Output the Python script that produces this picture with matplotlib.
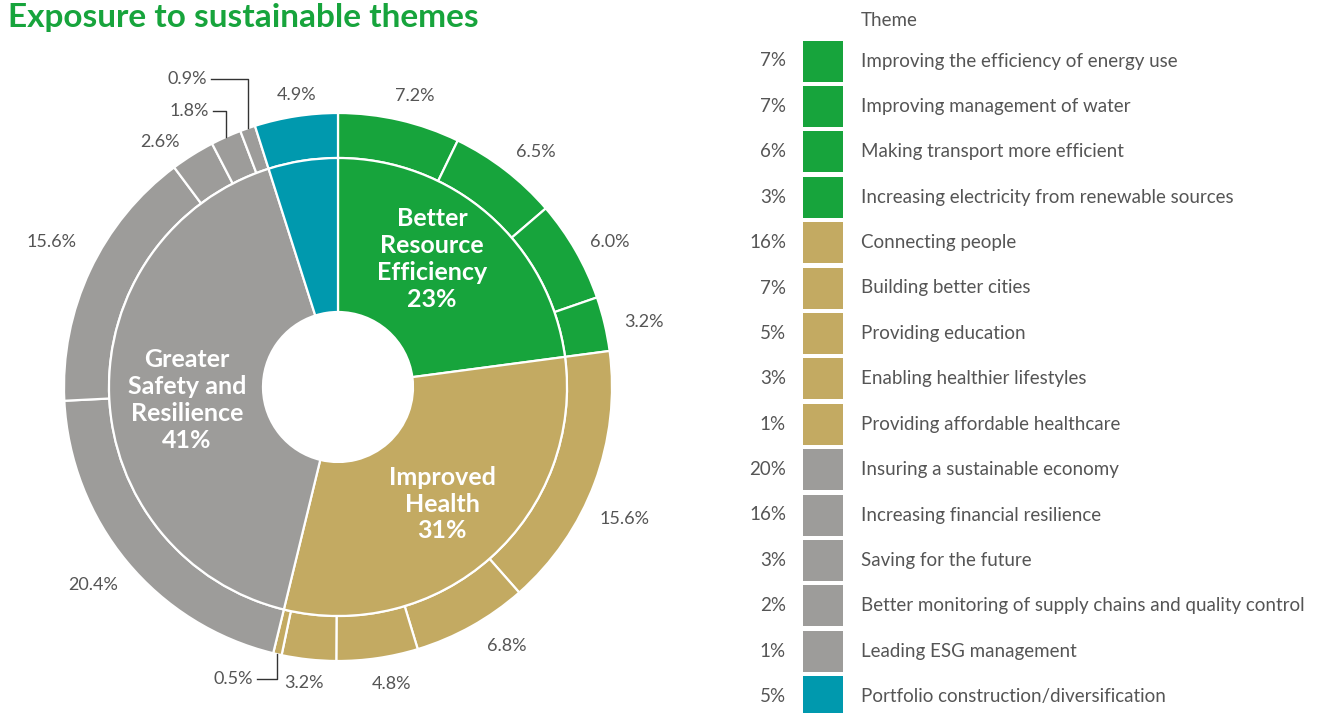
import matplotlib
matplotlib.use("Agg")
import matplotlib.pyplot as plt
import numpy as np
from matplotlib.patches import Rectangle

plt.rcParams['font.family'] = ['Lato', 'DejaVu Sans']

# ---------------- data ----------------
groups = ["Better\nResource\nEfficiency", "Improved\nHealth", "Greater\nSafety and\nResilience", ""]
group_values = [22.9, 30.9, 41.3, 4.9]
group_labels = ["23%", "31%", "41%", ""]

outer_values = [7.2, 6.5, 6.0, 3.2,
                15.6, 6.8, 4.8, 3.2, 0.5,
                20.4, 15.6, 2.6, 1.8, 0.9,
                4.9]
outer_group = [0, 0, 0, 0, 1, 1, 1, 1, 1, 2, 2, 2, 2, 2, 3]

legend_pct = ["7%", "7%", "6%", "3%", "16%", "7%", "5%", "3%", "1%",
              "20%", "16%", "3%", "2%", "1%", "5%"]
legend_names = ["Improving the efficiency of energy use",
                "Improving management of water",
                "Making transport more efficient",
                "Increasing electricity from renewable sources",
                "Connecting people",
                "Building better cities",
                "Providing education",
                "Enabling healthier lifestyles",
                "Providing affordable healthcare",
                "Insuring a sustainable economy",
                "Increasing financial resilience",
                "Saving for the future",
                "Better monitoring of supply chains and quality control",
                "Leading ESG management",
                "Portfolio construction/diversification"]
legend_group = [0, 0, 0, 0, 1, 1, 1, 1, 1, 2, 2, 2, 2, 2, 3]

colors = ["#17A43C", "#C3AA62", "#9D9C9A", "#0099AE"]
text_col = "#555555"

W, H = 1332, 713
fig = plt.figure(figsize=(W / 100, H / 100), dpi=100)

# ---------------- donut ----------------
cx, cy, R = 338, 387, 274
r_mid, r_hole = 229, 75
ax = fig.add_axes([0, 0, 700 / W, 1])

ax.pie(outer_values, radius=1.0, colors=[colors[g] for g in outer_group],
       startangle=90, counterclock=False,
       wedgeprops=dict(width=1 - r_mid / R, edgecolor='white', linewidth=1.6))
ax.pie(group_values, radius=r_mid / R, colors=colors,
       startangle=90, counterclock=False,
       wedgeprops=dict(width=(r_mid - r_hole) / R, edgecolor='white', linewidth=1.6))
ax.set_xlim((0 - cx) / R, (700 - cx) / R)
ax.set_ylim((cy - H) / R, cy / R)
ax.set_aspect('equal', adjustable='datalim')
ax.axis('off')

# outer labels: (angle offset in degrees, radius) relative to wedge middle
total = sum(outer_values)
cum = np.cumsum([0] + outer_values)
mids = (cum[:-1] + np.array(outer_values) / 2) / total * 360
label_place = [(1.8, 1.10), (2.4, 1.12), (1.8, 1.125), (1.3, 1.14),
               (4.2, 1.153), (-3.9, 1.128), (-1.9, 1.10), (0.5, 1.088), None,
               (0.7, 1.15), (1.6, 1.17), (-4.0, 1.105), None, None,
               (0.8, 1.077)]
fs_lab = 13
for i, v in enumerate(outer_values):
    if label_place[i] is None:
        continue
    off, rr = label_place[i]
    a = np.deg2rad(mids[i] + off)
    ax.text(rr * np.sin(a), rr * np.cos(a), f"{v:.1f}%", ha='center', va='center',
            fontsize=fs_lab, color=text_col)

# leader-line labels (small slices)
def leader(i, ty_px, tx_end_px):
    a = np.deg2rad(mids[i])
    x0, y0 = np.sin(a), np.cos(a)
    ty = (cy - ty_px) / R
    tx = (tx_end_px - cx) / R
    ax.plot([x0, x0, tx], [y0, ty, ty], color='#333333', lw=1.0)
    ax.text(tx - 0.015, ty, f"{outer_values[i]:.1f}%", ha='right', va='center',
            fontsize=fs_lab, color=text_col)

leader(13, 79, 211)   # 0.9%
leader(12, 111, 213)  # 1.8%
leader(8, 679, 257)   # 0.5%

# inner labels
inner_pos = [(432, 259), (442, 504), (187, 400)]
for g in range(3):
    px, py = inner_pos[g]
    ax.text((px - cx) / R, (cy - py) / R, groups[g] + "\n" + group_labels[g],
            ha='center', va='center', color='white', fontsize=18,
            fontweight='bold', linespacing=1.2)

# title
fig.text(8 / W, 1 - 17 / H, "Exposure to sustainable themes", ha='left', va='center',
         color="#17A43C", fontsize=24, fontweight='bold')

# ---------------- legend ----------------
lax = fig.add_axes([0, 0, 1, 1])
lax.set_xlim(0, W)
lax.set_ylim(H, 0)
lax.axis('off')
lax.text(861, 20, "Theme", ha='left', va='center', fontsize=13.5, color=text_col)
row0, step = 61, 45.4
for i, (p, n) in enumerate(zip(legend_pct, legend_names)):
    y = row0 + i * step
    lax.add_patch(Rectangle((803, y - 20.5), 40, 41, facecolor=colors[legend_group[i]],
                            edgecolor='none'))
    lax.text(786, y, p, ha='right', va='center', fontsize=13.5, color=text_col)
    lax.text(861, y, n, ha='left', va='center', fontsize=13.5, color=text_col)

fig.savefig("out.png", dpi=100)
